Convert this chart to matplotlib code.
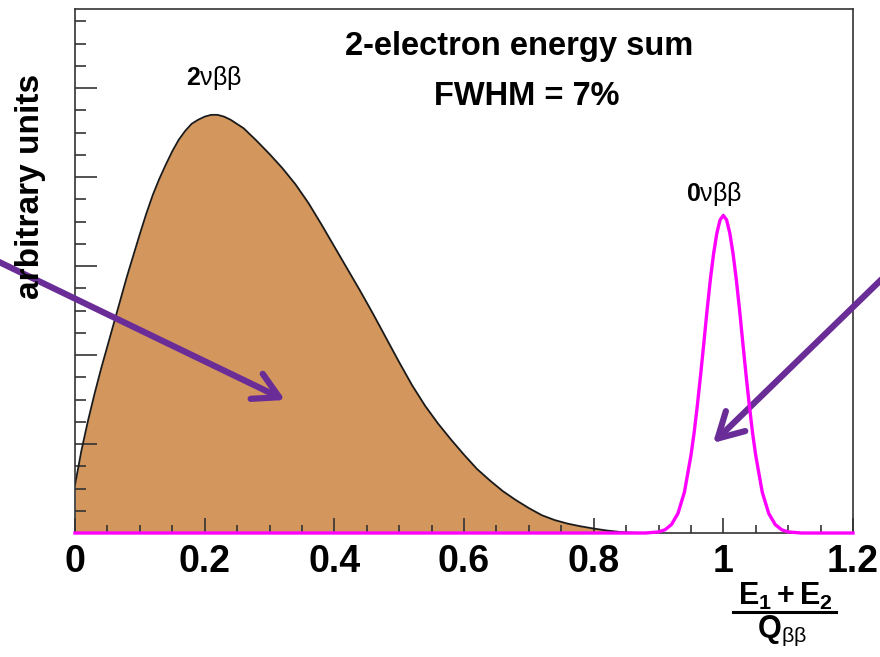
import matplotlib
matplotlib.use('Agg')
import matplotlib.pyplot as plt
from matplotlib.lines import Line2D

plt.rcParams['font.family'] = ['Liberation Sans', 'DejaVu Sans']
plt.rcParams['mathtext.fontset'] = 'custom'
plt.rcParams['mathtext.rm'] = 'Liberation Sans'
plt.rcParams['mathtext.it'] = 'Liberation Sans'
plt.rcParams['mathtext.bf'] = 'Liberation Sans:bold'

# 2 neutrino spectrum
two_nu_x = [0.0, 0.01, 0.02, 0.03, 0.04, 0.05, 0.06, 0.07, 0.08, 0.09,
            0.10, 0.11, 0.12, 0.13, 0.14, 0.15, 0.16, 0.17, 0.18, 0.19,
            0.20, 0.21, 0.22, 0.23, 0.24, 0.26, 0.28, 0.30, 0.32, 0.34,
            0.36, 0.38, 0.40, 0.42, 0.44, 0.46, 0.48, 0.50, 0.52, 0.54,
            0.56, 0.58, 0.60, 0.62, 0.64, 0.66, 0.68, 0.70, 0.72, 0.74,
            0.76, 0.78, 0.80, 0.82, 0.84, 0.86, 0.88]
two_nu_y = [0.54, 0.93, 1.26, 1.56, 1.84, 2.10, 2.36, 2.62, 2.88, 3.12,
            3.36, 3.59, 3.80, 3.98, 4.14, 4.29, 4.42, 4.52, 4.60, 4.645,
            4.68, 4.70, 4.70, 4.68, 4.645, 4.55, 4.41, 4.26, 4.10, 3.92,
            3.71, 3.47, 3.22, 2.97, 2.72, 2.46, 2.19, 1.92, 1.66, 1.43,
            1.23, 1.05, 0.88, 0.72, 0.59, 0.47, 0.37, 0.28, 0.20, 0.145,
            0.105, 0.075, 0.05, 0.028, 0.012, 0.004, 0.0]

# 0 neutrino peak
zero_nu_x = [0.0, 0.88, 0.90, 0.91, 0.92, 0.93, 0.94, 0.95, 0.955, 0.96, 0.965, 0.97,
             0.975, 0.98, 0.985, 0.99, 0.995, 1.0, 1.005, 1.01, 1.015, 1.02, 1.025,
             1.03, 1.035, 1.04, 1.045, 1.05, 1.06, 1.07, 1.08, 1.09, 1.10, 1.12, 1.2]
zero_nu_y = [0.0, 0.0, 0.012, 0.036, 0.095, 0.22, 0.46, 0.87, 1.13, 1.44, 1.78, 2.14,
             2.51, 2.85, 3.14, 3.37, 3.52, 3.57, 3.52, 3.37, 3.14, 2.85, 2.51,
             2.14, 1.78, 1.44, 1.13, 0.87, 0.46, 0.22, 0.095, 0.036, 0.012, 0.0, 0.0]

xticks = [0, 0.2, 0.4, 0.6, 0.8, 1.0, 1.2]
xtick_labels = ['0', '0.2', '0.4', '0.6', '0.8', '1', '1.2']

W, H = 880, 657
fig = plt.figure(figsize=(8.8, 6.57), dpi=100)
ax = fig.add_axes([75 / W, 1 - 533 / H, (853 - 75) / W, (533 - 9) / H])

ax.fill_between(two_nu_x, two_nu_y, 0, color='#d3965c', lw=0)
ax.plot(two_nu_x, two_nu_y, color='#1a1a1a', lw=1.3)
ax.plot(zero_nu_x, zero_nu_y, color='#ff00ff', lw=2.4, clip_on=False, zorder=5)

ax.set_xlim(0, 1.2)
ax.set_ylim(0, 5.89)
ax.set_xticks(xticks)
ax.set_xticklabels(xtick_labels, fontsize=27, fontweight='bold')
ax.set_xticks([i * 0.05 for i in range(25)], minor=True)
ax.set_yticks([1, 2, 3, 4, 5])
ax.set_yticks([i * 0.25 for i in range(24)], minor=True)
ax.set_yticklabels([])
ax.tick_params(axis='x', which='major', direction='in', length=11, width=1.2, pad=8, colors='#333333', labelcolor='black')
ax.tick_params(axis='x', which='minor', direction='in', length=5.5, width=1.2, colors='#333333')
ax.tick_params(axis='y', which='major', direction='in', length=16, width=1.2, colors='#333333')
ax.tick_params(axis='y', which='minor', direction='in', length=8, width=1.2, colors='#333333')
for s in ax.spines.values():
    s.set_color('#333333')
    s.set_linewidth(1.2)

ax.text(0.685, 5.47, '2-electron energy sum', fontsize=23.5, fontweight='bold', ha='center', va='center')
ax.text(0.697, 4.91, 'FWHM = 7%', fontsize=23.5, fontweight='bold', ha='center', va='center')
ax.text(0.214, 5.12, r'$\mathbf{2}\nu\beta\beta$', fontsize=18, ha='center', va='center')
ax.text(0.985, 3.81, r'$\mathbf{0}\nu\beta\beta$', fontsize=18, ha='center', va='center')

fig.text(31 / W, 1 - 186 / H, 'arbitrary units', fontsize=24, fontweight='bold',
         rotation=90, ha='center', va='center')

# x axis label as a fraction
fig.text(785 / W, 1 - 596 / H, r'$\mathbf{E_1 + E_2}$', fontsize=22, ha='center', va='center')
fig.add_artist(Line2D([733 / W, 836 / W], [1 - 612 / H, 1 - 612 / H], color='black', lw=2.2,
                      transform=fig.transFigure))
fig.text(782 / W, 1 - 631 / H, r'$\mathbf{Q}_{\beta\beta}$', fontsize=22, ha='center', va='center')

# purple arrows
arrow_color = '#6a2d98'
ax.annotate('', xy=(285, H - 400), xycoords='figure pixels', xytext=(-5, H - 260),
            textcoords='figure pixels', annotation_clip=False,
            arrowprops=dict(arrowstyle='->,head_length=0.9,head_width=0.5', color=arrow_color,
                            lw=4.5, mutation_scale=20, shrinkA=0, shrinkB=0))
ax.annotate('', xy=(713, H - 443), xycoords='figure pixels', xytext=(885, H - 276),
            textcoords='figure pixels', annotation_clip=False,
            arrowprops=dict(arrowstyle='->,head_length=0.9,head_width=0.5', color=arrow_color,
                            lw=4.5, mutation_scale=20, shrinkA=0, shrinkB=0))

fig.savefig('out.png', dpi=100)
